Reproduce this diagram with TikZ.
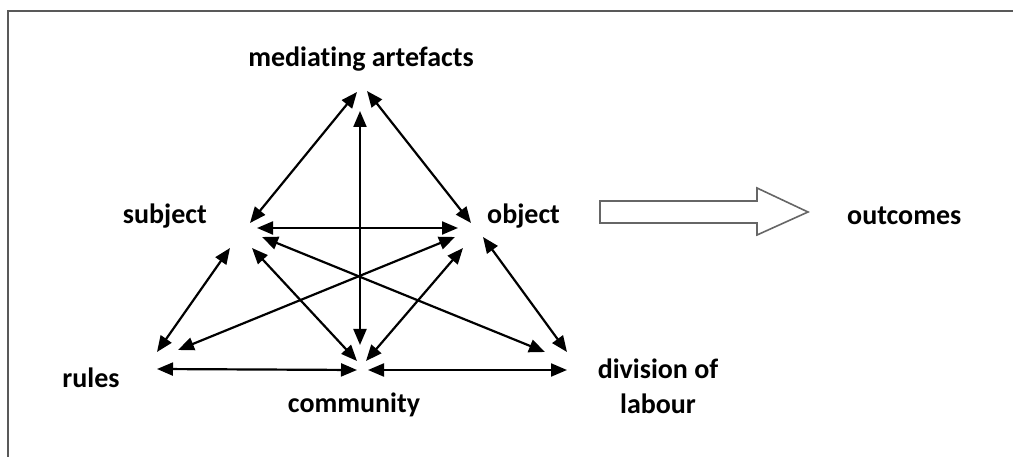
\documentclass[tikz,border=0pt]{standalone}
\usepackage{fontspec}
\setmainfont{Carlito}[Ligatures=NoCommon]
\usetikzlibrary{arrows.meta}
\begin{document}
\begin{tikzpicture}[x=1pt,y=-1pt,
  lbl/.style={font=\bfseries\fontsize{28}{35}\selectfont, inner sep=0pt, anchor=base, text=black},
  link/.style={{Triangle[length=16pt,width=13pt]}-{Triangle[length=16pt,width=13pt]}, line width=2.2pt, black},
  frame/.style={line width=2pt, black!65},
  bigarrow/.style={line width=1.6pt, black!60, fill=white}]
\useasboundingbox (0,0) rectangle (1013,457);
\fill[white] (0,0) rectangle (1013,457);
% frame (top and left only)
\coordinate (fTR) at (1013,11.5);
\coordinate (fTL) at (8,11.5);
\coordinate (fBL) at (8,457);
\draw[frame] (fTR) -- (fTL) -- (fBL);
% labels
\node[lbl] (med) at (361,67) {mediating artefacts};
\node[lbl, anchor=base east] (sub) at (207,224) {subject};
\node[lbl, anchor=base west] (obj) at (487,224) {object};
\node[lbl, anchor=base west] (out) at (847,225) {outcomes};
\node[lbl] (rul) at (91,388) {rules};
\node[lbl] (com) at (354,412) {community};
\node[lbl, anchor=center, align=center] (div) at (658,386) {division of\\labour};
% arrow end points
\coordinate (mA) at (357,92);
\coordinate (mB) at (367,91);
\coordinate (mC) at (360,111);
\coordinate (sA) at (250,223);
\coordinate (sB) at (257,228);
\coordinate (sC) at (262,237);
\coordinate (sD) at (230,248);
\coordinate (sE) at (252,248);
\coordinate (oA) at (471,223);
\coordinate (oB) at (458,228);
\coordinate (oC) at (455,237);
\coordinate (oD) at (463,248);
\coordinate (oE) at (483,237);
\coordinate (rA) at (157,352);
\coordinate (rB) at (178,350);
\coordinate (rC) at (157,369);
\coordinate (cA) at (360,345);
\coordinate (cB) at (357,361);
\coordinate (cC) at (366,361);
\coordinate (cD) at (357,370);
\coordinate (cE) at (368,370);
\coordinate (dA) at (545,352);
\coordinate (dB) at (567,352);
\coordinate (dC) at (567,370);
% connectors
\draw[link] (mA) -- (sA);
\draw[link] (mB) -- (oA);
\draw[link] (mC) -- (cA);
\draw[link] (sB) -- (oB);
\draw[link] (sD) -- (rA);
\draw[link] (sE) -- (cB);
\draw[link] (sC) -- (dA);
\draw[link] (oC) -- (rB);
\draw[link] (oD) -- (cC);
\draw[link] (oE) -- (dB);
\draw[link] (rC) -- (cD);
\draw[link] (cE) -- (dC);
% big hollow arrow
\coordinate (ba1) at (600,201);
\coordinate (ba2) at (757,201);
\coordinate (ba3) at (757,188);
\coordinate (ba4) at (808,212);
\coordinate (ba5) at (757,235);
\coordinate (ba6) at (757,223);
\coordinate (ba7) at (600,223);
\draw[bigarrow] (ba1) -- (ba2) -- (ba3) -- (ba4) -- (ba5) -- (ba6) -- (ba7) -- cycle;
\end{tikzpicture}
\end{document}
